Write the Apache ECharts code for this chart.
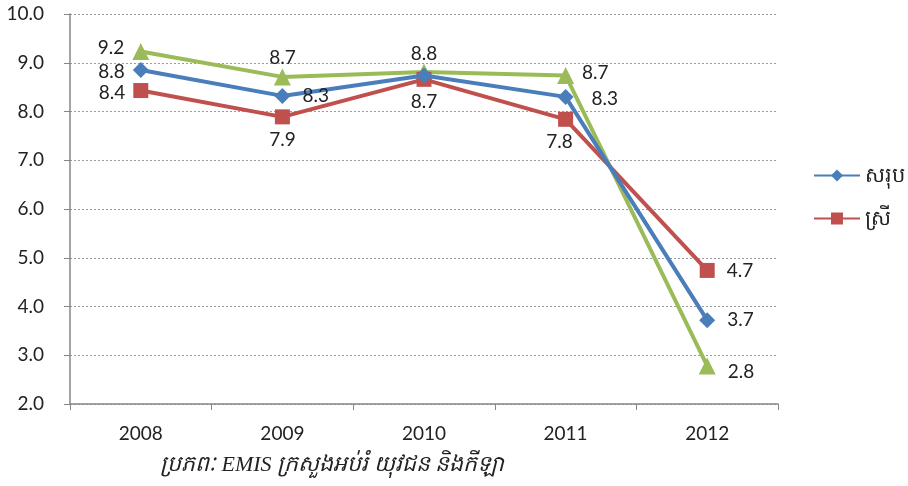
<!DOCTYPE html>
<html><head><meta charset="utf-8">
<script src="https://cdn.jsdelivr.net/npm/echarts@6/dist/echarts.min.js"></script>
<style>html,body{margin:0;padding:0;background:#fff}#c{width:908px;height:486px}</style>
</head><body><div id="c"></div>
<script>
const categories = ['2008','2009','2010','2011','2012'];
const totalValues = [8.85, 8.32, 8.74, 8.30, 3.72];
const femaleValues = [8.43, 7.89, 8.66, 7.84, 4.74];
const maleValues = [9.23, 8.71, 8.81, 8.74, 2.78];
const seriesNames = ['សរុប', 'ស្រី', 'ប្រុស'];
const yTicks = {min: 2, max: 10, interval: 1};
const caption = 'ប្រភពៈ EMIS ក្រសួងអប់រំ យុវជន និងកីឡា';

const FONT = 'Lato, "Open Sans", sans-serif';
const fmt = p => p.value.toFixed(1);
const lbl = (position, extra) => Object.assign({show: true, position, formatter: fmt, fontSize: 19, color: '#222', fontFamily: FONT}, extra || {});

function mk(vals, labels) {
  return vals.map((v, i) => ({value: v, label: labels[i]}));
}

const chart = echarts.init(document.getElementById('c'));
chart.setOption({
  animation: false,
  grid: {left: 70, right: 130, top: 14, bottom: 82},
  legend: {
    data: [seriesNames[0], seriesNames[1]],
    orient: 'vertical', left: 808, top: 160, itemGap: 22,
    itemWidth: 46, itemHeight: 15,
    textStyle: {fontSize: 21, color: '#222', fontFamily: FONT}
  },
  xAxis: {
    type: 'category', data: categories, boundaryGap: true,
    axisLine: {lineStyle: {color: '#868686', width: 1.5}},
    axisTick: {show: true, length: 6, lineStyle: {color: '#868686'}},
    axisLabel: {fontSize: 19, color: '#222', margin: 20, fontFamily: FONT}
  },
  yAxis: {
    type: 'value', min: yTicks.min, max: yTicks.max, interval: yTicks.interval,
    axisLine: {show: true, lineStyle: {color: '#868686', width: 1.5}},
    axisTick: {show: true, length: 6, lineStyle: {color: '#868686'}},
    axisLabel: {fontSize: 19, color: '#222', margin: 26, fontFamily: FONT, formatter: v => v.toFixed(1)},
    splitLine: {lineStyle: {color: '#9a9a9a', type: [2, 2], width: 1}}
  },
  graphic: [{
    type: 'text', left: 160, top: 454,
    style: {text: caption, fontSize: 22, fontStyle: 'italic', fill: '#222', fontFamily: '"Times New Roman", "Liberation Serif", serif'}
  }],
  series: [
    {
      name: seriesNames[1], type: 'line', z: 2,
      data: mk(femaleValues, [lbl('left', {distance: 8, offset: [0, 2]}), lbl('bottom', {distance: 6}), lbl('bottom', {distance: 6}), lbl('bottom', {distance: 6, offset: [-6, 0]}), lbl('right', {distance: 12})]),
      symbol: 'rect', symbolSize: 15,
      lineStyle: {color: '#C0504D', width: 4}, itemStyle: {color: '#C0504D'}
    },
    {
      name: seriesNames[2], type: 'line', z: 1,
      data: mk(maleValues, [lbl('left', {distance: 8, offset: [0, -4]}), lbl('top', {distance: 1}), lbl('top', {distance: 0}), lbl('right', {distance: 8, offset: [0, -3]}), lbl('right', {distance: 12, offset: [0, 6]})]),
      symbol: 'triangle', symbolSize: 17,
      lineStyle: {color: '#9BBB59', width: 4}, itemStyle: {color: '#9BBB59'}
    },
    {
      name: seriesNames[0], type: 'line', z: 3,
      data: mk(totalValues, [lbl('left', {distance: 8, offset: [0, 2]}), lbl('right', {distance: 12}), {show: false}, lbl('right', {distance: 12, offset: [6, 2]}), lbl('right', {distance: 12})]),
      symbol: 'diamond', symbolSize: 16,
      lineStyle: {color: '#4A7EBB', width: 4}, itemStyle: {color: '#4A7EBB'}
    }
  ]
});
</script></body></html>
